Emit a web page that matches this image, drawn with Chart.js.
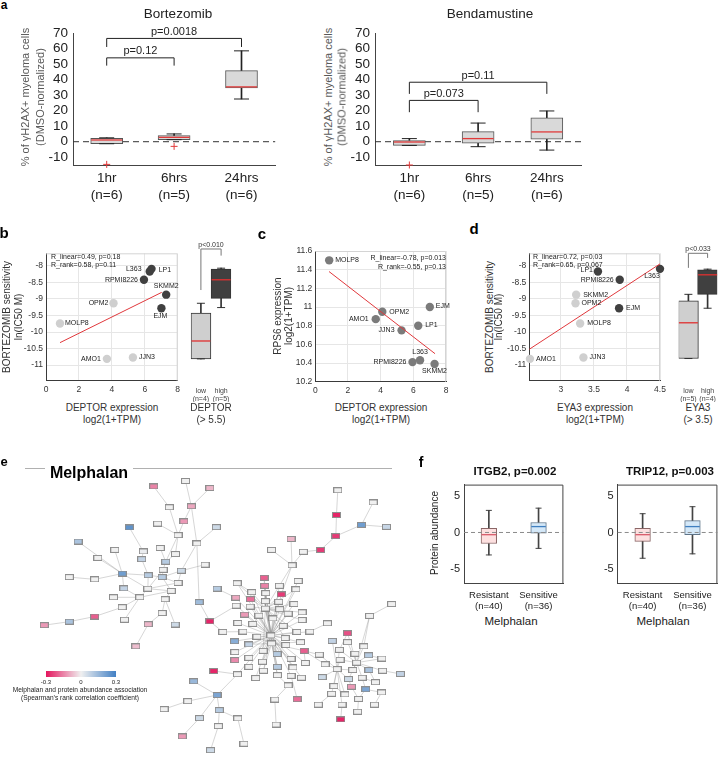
<!DOCTYPE html>
<html>
<head>
<meta charset="utf-8">
<script src="https://cdn.jsdelivr.net/npm/chart.js@4.4.0/dist/chart.umd.min.js"></script>
<style>
body{margin:0;width:721px;height:760px;overflow:hidden;background:#fff;position:relative;font-family:"Liberation Sans",Arial,sans-serif}
canvas{position:absolute}
.t{position:absolute;white-space:nowrap;line-height:1}
</style>
</head>
<body>
<script>
// ---- panel a: gamma-H2AX boxplots
var timeLabels = [['1hr', '(n=6)'], ['6hrs', '(n=5)'], ['24hrs', '(n=6)']];
var aTicks = [-10, 0, 10, 20, 30, 40, 50, 60, 70];
var bortQ1 = [-1.3, 1.3, 34.6], bortQ3 = [2.2, 3.9, 45.8], bortMed = [1.1, 2.8, 35.3];
var bortLo = [-1.3, 1.3, 27.5], bortHi = [2.5, 5, 58.5], bortOut = [-14.6, -3, null];
var bendQ1 = [-2.4, -1, 1.7], bendQ3 = [0.8, 6.5, 15.3], bendMed = [-0.2, 2, 6.3];
var bendLo = [-2.4, -3.2, -5.4], bendHi = [2, 12, 19.8], bendOut = [-15, null, null];
var bortBrackets = [{a: 0, b: 2, y: 66.5, ya: 61, yb: 61, text: 'p=0.0018'}, {a: 0, b: 1, y: 54, ya: 49, yb: 49, text: 'p=0.12'}];
var bendBrackets = [{a: 0, b: 2, y: 38.3, ya: 30.8, yb: 30.8, text: 'p=0.11'}, {a: 0, b: 1, y: 26.6, ya: 19, yb: 19, text: 'p=0.073'}];

// ---- panels b-d: cell lines
var cellLines = ['MOLP8', 'OPM2', 'AMO1', 'JJN3', 'RPMI8226', 'L363', 'LP1', 'SKMM2', 'EJM'];
var deptorExpr = [0.85, 4.1, 3.7, 5.28, 5.95, 6.41, 6.3, 7.3, 7.01];
var bortSens = [-9.74, -9.13, -10.81, -10.77, -8.42, -8.09, -8.17, -8.87, -9.28];
var rps6Expr = [11.5, 10.95, 10.87, 10.75, 10.41, 10.43, 10.8, 10.39, 11.0];
var eya3Expr = [3.29, 3.22, 2.53, 3.34, 3.89, 4.5, 3.56, 3.23, 3.88];
var sensTicks = [-11, -10.5, -10, -9.5, -9, -8.5, -8];
var deptorTicks = [0, 2, 4, 6, 8];
var rps6Ticks = [10.2, 10.4, 10.6, 10.8, 11, 11.2, 11.4, 11.6];
var eya3Ticks = [3, 3.5, 4, 4.5];
var fitB = [0.85, -10.32, 7.03, -8.8], fitC = [0.84, 11.38, 7.33, 10.5], fitD = [2.52, -10.52, 4.5, -7.94];
var deptorGroups = [['low', '(n=4)'], ['high', '(n=5)']];
var eya3Groups = [['low', '(n=5)'], ['high', '(n=4)']];
var deptorBox = {q1: [-10.81, -8.98], q3: [-9.43, -8.1], med: [-10.27, -8.42], lo: [-10.81, -9.26], hi: [-9.13, -8.07]};
var eya3Box = {q1: [-10.8, -8.86], q3: [-9.06, -8.12], med: [-9.72, -8.27], lo: [-10.8, -9.28], hi: [-8.86, -8.1]};

// ---- panel f: protein abundance
var groupsF = [['Resistant', '(n=40)'], ['Sensitive', '(n=36)']];
var fTicks = [-5, 0, 5];
var itgb2 = {q1: [-1.5, -0.1], q3: [0.57, 1.36], med: [-0.3, 0.8], lo: [-3.05, -2.16], hi: [3.0, 3.3]};
var trip12 = {q1: [-1.2, -0.3], q3: [0.57, 1.6], med: [-0.3, 0.8], lo: [-3.5, -2.9], hi: [2.55, 3.5]};

// ---- panel e: network (layout coordinates) and node correlation
var nodeX = [455,553,628,503,571,548,467,380,648,530,588,222,335,283,423,475,418,522,492,613,484,358,195,273,438,481,540,530,437,363,509,331,412,490,358,595,273,195,118,365,481,438,521,400,628,668,
  1022,1131,1018,1095,1172,1016,878,969,818,916,881,
  795,900,712,650,797,842,893,757,800,848,708,753,799,840,887,709,752,799,843,735,779,822,869,912,714,760,854,912,990,730,773,816,860,896,936,704,748,818,862,907,705,792,835,878,918,748,705,790,836,884,922,748,793,836,878,910,769,713,640,869,897,828,832,
  578,650,560,487,657,596,714,654,543,733,630,
  1188,1120,1052,1005,1052,1102,965,1027,1075,1117,1158,983,1029,1080,1020,1068,1118,1160,1215,974,1055,1097,1138,1010,1064,1108,1157,1003,1044,1086,962,1035,1135,1083,1031];
var nodeY = [95,78,100,160,157,204,211,223,222,247,273,267,293,318,298,287,322,306,330,339,355,367,378,385,372,378,358,396,414,413,421,441,441,447,472,456,501,517,528,511,490,525,526,594,516,549,
  107,145,184,215,221,250,259,293,293,299,341,
  380,390,397,414,405,405,416,425,428,432,442,447,453,455,462,467,470,476,478,495,498,507,492,488,521,524,530,512,522,548,564,560,568,549,548,578,588,585,590,581,612,608,618,633,608,630,637,642,658,660,646,658,670,684,686,692,693,681,671,716,759,760,838,
  703,746,765,790,793,818,819,843,875,898,918,
  462,499,553,577,581,594,620,605,617,622,632,650,636,645,665,668,668,670,680,690,696,692,706,718,720,728,738,742,744,758,776,776,776,798,822];
var nodeCorr = [-0.15,0,-0.08,0,-0.1,-0.12,0,0.25,0.06,0,0,0.12,0,0,0.01,0,0.08,0,0.1,0,0,0.22,0,0,0.1,0.1,0.06,0,0,0.08,0,0,0,0,0,0.14,-0.2,0.12,-0.12,0,0,-0.08,0.06,-0.07,-0.28,0,
  0,0,-0.28,0.22,0.07,-0.25,-0.08,-0.25,0,0,0,
  -0.2,0,0,0.1,-0.15,0,0,0,0,-0.25,-0.1,-0.18,0,0,0,0,0,0,0,-0.12,0,0,0,0,0,0,0,0,0,0,0,0,0,0,0,0.18,0.08,0,0,0,0,0,0.1,0,-0.2,0,-0.14,0,0.1,0,0,0,0,0,0,0,0,0,-0.28,0,-0.18,0,0,
  0.15,0.2,0,0,0.1,0.06,0,0,-0.12,0,0.06,
  0,0,-0.22,0.08,0,0,0,0,0,0.1,0,0,0,0,0,0,0.12,0,0.08,0.06,0.06,0,0,0,-0.12,0.2,0,0,0,0,0,0,0,0,-0.28];
// edges use node numbers counted from 1
var netEdges = [[1,4],[2,5],[3,5],[4,10],[5,6],[6,10],[7,10],[5,11],[9,11],[11,27],[10,18],[10,19],[8,15],[15,17],[16,19],[17,25],[18,19],[19,21],[21,26],[25,26],[26,27],[20,27],[12,22],[13,22],[14,22],[23,24],[24,22],[22,25],[22,30],[22,29],[25,29],[26,28],[28,29],[29,33],[30,33],[31,33],[31,34],[32,33],[33,35],[34,41],[34,43],[35,37],[37,38],[38,39],[33,40],[41,42],[42,44],[29,31],[26,31],[27,28],[11,36],[36,45],[45,46],[45,73],[46,87],[61,68],[21,29],
  [57,63],[57,67],[57,53],[57,55],[57,56],[56,54],[54,52],[52,49],[49,47],[52,50],[50,48],[50,51],
  [86,92],[60,65],[102,138],[102,143],[102,108],
  [116,115],[115,122],[121,122],[122,123],[123,124],[122,125],[122,126],[125,127],[125,128],[126,129],[128,131],[127,130],[119,117],[117,111],[118,112],[120,119],[114,110],
  [132,133],[133,137],[150,149],[154,153],[156,152],[157,153],[158,157],[161,156],[164,158],[165,161],[166,163],[162,159],[155,160],[134,139],[141,142],[148,154],[157,161]];
var hub89 = [58,59,60,62,63,64,65,66,67,68,69,70,71,72,73,74,75,76,77,78,79,80,81,82,83,84,85,87,88,90,91,92,93,94,95,96,97,98,99,100,101,103,104,105,106,107,108,109,110,111,112,113,114,115];
var hub75 = [58,60,62,63,64,65,66,67,69,70,71,72,74,76,78,79,80,81,83,84,85,90,91,95,99,100];
var hub95 = [88,94,96,97,99,100,101,105,106,110,111,102];
var hub145 = [133,134,136,137,139,140,141,142,144,147,148,149,152,153];
var hub146 = [135,138,139,143,144,147,151,152,155,159,160,163];

var FONT = '"Liberation Sans", Arial, Helvetica, sans-serif';
Chart.defaults.font.family = FONT;
Chart.defaults.animation = false;
Chart.defaults.events = [];
Chart.defaults.plugins.legend.display = false;
Chart.defaults.plugins.tooltip.enabled = false;

function fmt(v) { return String(Math.round(v * 100) / 100); }

function txt(s, x, y, o) {
    o = o || {};
    var d = document.createElement('div');
    d.className = 't';
    d.textContent = s;
    d.style.left = x + 'px';
    d.style.top = y + 'px';
    d.style.fontSize = (o.size || 10) + 'px';
    if (o.bold) d.style.fontWeight = 'bold';
    d.style.color = o.color || '#222';
    var tx = o.align == 'left' ? '0' : (o.align == 'right' ? '-100%' : '-50%');
    d.style.transform = 'translate(' + tx + ',-50%)' + (o.rot ? ' rotate(-90deg)' : '');
    document.body.appendChild(d);
}

function makeCanvas(r) {
    var c = document.createElement('canvas');
    c.width = r[2] - r[0];
    c.height = r[3] - r[1];
    c.style.left = r[0] + 'px';
    c.style.top = r[1] + 'px';
    c.style.width = c.width + 'px';
    c.style.height = c.height + 'px';
    document.body.appendChild(c);
    return c;
}

// fix the chart area at plot rect inside canvas rect
function fitTo(plot, r) {
    var l = plot[0] - r[0], t = plot[1] - r[1], rr = r[2] - plot[2], b = r[3] - plot[3];
    function zero(s) { s.paddingLeft = s.paddingRight = s.paddingTop = s.paddingBottom = 0; }
    return {
        padding: {left: 0, top: t, right: rr, bottom: 0},
        fx: function (s) { s.height = b; zero(s); },
        fy: function (s) { s.width = l; zero(s); }
    };
}

function ticksFrom(arr) {
    return function (s) { s.ticks = arr.map(function (v) { return {value: v}; }); };
}

function zeroPlugin(z) {
    var draw = function (chart) {
        var ctx = chart.ctx, a = chart.chartArea, y = chart.scales.y.getPixelForValue(0);
        ctx.save();
        ctx.strokeStyle = z.color;
        ctx.lineWidth = 1;
        ctx.setLineDash(z.dash);
        ctx.beginPath();
        ctx.moveTo(a.left, y);
        ctx.lineTo(a.right, y);
        ctx.stroke();
        ctx.restore();
    };
    return z.front ? {id: 'zero', afterDatasetsDraw: draw} : {id: 'zero', beforeDatasetsDraw: draw};
}

function framePlugin(color) {
    return {id: 'frame', beforeDatasetsDraw: function (chart) {
        var ctx = chart.ctx, a = chart.chartArea;
        ctx.save();
        ctx.strokeStyle = color;
        ctx.lineWidth = 1;
        ctx.beginPath();
        ctx.moveTo(a.left, a.top + 0.5);
        ctx.lineTo(a.right - 0.5, a.top + 0.5);
        ctx.lineTo(a.right - 0.5, a.bottom);
        ctx.stroke();
        ctx.restore();
    }};
}

function bracketPlugin(list, st) {
    return {id: 'brackets', afterDatasetsDraw: function (chart) {
        var ctx = chart.ctx, sx = chart.scales.x, sy = chart.scales.y;
        ctx.save();
        ctx.strokeStyle = st.color;
        ctx.fillStyle = st.textColor;
        ctx.lineWidth = 1;
        ctx.font = st.font;
        ctx.textAlign = 'center';
        list.forEach(function (b) {
            var x1 = sx.getPixelForValue(b.a), x2 = sx.getPixelForValue(b.b), yt = sy.getPixelForValue(b.y);
            ctx.beginPath();
            ctx.moveTo(x1, sy.getPixelForValue(b.ya));
            ctx.lineTo(x1, yt);
            ctx.lineTo(x2, yt);
            ctx.lineTo(x2, sy.getPixelForValue(b.yb));
            ctx.stroke();
            ctx.fillText(b.text, (x1 + x2) / 2, yt - st.gap);
        });
        ctx.restore();
    }};
}

function boxChart(p) {
    var cv = makeCanvas(p.rect), fit = fitTo(p.plot, p.rect);
    var cap = {type: 'line', showLine: false, pointStyle: 'line', pointRadius: p.capW / 2,
        pointBorderColor: p.whisk, pointBorderWidth: 1, order: 1, clip: false};
    var ds = [
        {type: 'line', data: p.med, showLine: false, pointStyle: 'line', pointRadius: p.boxW / 2 - 0.5,
            pointBorderColor: p.medColor, pointBorderWidth: 1.3, order: 0, clip: false},
        Object.assign({data: p.hi}, cap),
        Object.assign({data: p.lo}, cap),
        {type: 'bar', data: p.q1.map(function (v, i) { return [v, p.q3[i]]; }), backgroundColor: p.fill,
            borderColor: p.edge, borderWidth: 1, borderSkipped: false, barThickness: p.boxW, grouped: false, order: 2},
        {type: 'bar', data: p.lo.map(function (v, i) { return [v, p.q1[i]]; }), backgroundColor: p.whisk,
            barThickness: 1, grouped: false, order: 3},
        {type: 'bar', data: p.q3.map(function (v, i) { return [v, p.hi[i]]; }), backgroundColor: p.whisk,
            barThickness: 1, grouped: false, order: 3}
    ];
    if (p.out) {
        ds.push({type: 'line', data: p.out, showLine: false, pointStyle: 'cross', pointRadius: 3.5,
            pointBorderColor: '#e23b3b', pointBorderWidth: 1, order: 0, clip: false});
    }
    var plugins = [];
    if (p.zero) plugins.push(zeroPlugin(p.zero));
    if (p.frame) plugins.push(framePlugin(p.frame));
    if (p.brackets) plugins.push(bracketPlugin(p.brackets, p.br));
    new Chart(cv, {
        type: 'bar',
        data: {labels: p.labels, datasets: ds},
        options: {
            responsive: false,
            layout: {padding: fit.padding},
            scales: {
                x: {afterFit: fit.fx, grid: {display: false, drawTicks: false},
                    border: {display: !!p.axisColor, color: p.axisColor},
                    ticks: {font: {size: p.xFont, lineHeight: p.xLH}, color: p.tickColor, padding: p.xPad, maxRotation: 0, autoSkip: false}},
                y: {min: p.yMin, max: p.yMax, afterFit: fit.fy, afterBuildTicks: ticksFrom(p.yTicks),
                    grid: {display: false, drawTicks: false},
                    border: {display: !!p.axisColor, color: p.axisColor},
                    ticks: {display: p.showY, font: {size: p.yFont}, color: p.tickColor, padding: p.yPad, callback: fmt, autoSkip: false}}
            }
        },
        plugins: plugins
    });
}

function scatterChart(p) {
    var cv = makeCanvas(p.rect), fit = fitTo(p.plot, p.rect);
    var pts = p.xs.map(function (x, i) { return {x: x, y: p.ys[i]}; });
    var labels = {id: 'ptlabels', afterDatasetsDraw: function (chart) {
        var ctx = chart.ctx, sx = chart.scales.x, sy = chart.scales.y;
        ctx.save();
        ctx.font = '7px ' + FONT;
        ctx.fillStyle = '#222';
        ctx.textBaseline = 'middle';
        cellLines.forEach(function (n, i) {
            var o = p.off[i];
            ctx.textAlign = o[2];
            ctx.fillText(n, sx.getPixelForValue(p.xs[i]) + o[0], sy.getPixelForValue(p.ys[i]) + o[1]);
        });
        ctx.restore();
    }};
    new Chart(cv, {
        type: 'scatter',
        data: {datasets: [
            {data: [{x: p.fit[0], y: p.fit[1]}, {x: p.fit[2], y: p.fit[3]}], showLine: true, borderColor: '#e0383c',
                borderWidth: 1, pointRadius: 0, order: 0, clip: false},
            {data: pts, backgroundColor: p.colors, pointRadius: 4.2, borderWidth: 0, order: 1, clip: false}
        ]},
        options: {
            responsive: false,
            layout: {padding: fit.padding},
            scales: {
                x: {type: 'linear', min: p.xMin, max: p.xMax, afterFit: fit.fx, afterBuildTicks: ticksFrom(p.xTicks),
                    grid: {color: '#e6e6e6', drawTicks: false}, border: {color: '#3a3a3a'},
                    ticks: {font: {size: 8.5}, color: '#333', padding: 4, callback: fmt, maxRotation: 0, autoSkip: false}},
                y: {min: p.yMin, max: p.yMax, afterFit: fit.fy, afterBuildTicks: ticksFrom(p.yTicks),
                    grid: {color: '#e6e6e6', drawTicks: false}, border: {color: '#3a3a3a'},
                    ticks: {font: {size: 8.5}, color: '#333', padding: 3, callback: fmt, autoSkip: false}}
            }
        },
        plugins: [framePlugin('#d4d4d4'), labels]
    });
}

// ---------- panel a
var aStyle = {yMin: -15, yMax: 70, yTicks: aTicks, fill: '#d9d9d9', edge: '#555', whisk: '#222', medColor: '#e03a3a',
    boxW: 32, capW: 15, xFont: 13.5, xLH: 1.25, xPad: 5, yFont: 13.5, yPad: 5, showY: true, tickColor: '#222',
    axisColor: '#444', zero: {color: '#333', dash: [6, 4], front: false},
    br: {color: '#222', textColor: '#222', font: '11px ' + FONT, gap: 3.5}};
boxChart(Object.assign({plot: [73, 33, 283, 165], rect: [30, 15, 292, 210], labels: timeLabels,
    q1: bortQ1, q3: bortQ3, med: bortMed, lo: bortLo, hi: bortHi, out: bortOut, brackets: bortBrackets}, aStyle));
boxChart(Object.assign({plot: [375, 33, 586, 165], rect: [335, 15, 598, 210], labels: timeLabels,
    q1: bendQ1, q3: bendQ3, med: bendMed, lo: bendLo, hi: bendHi, out: bendOut, brackets: bendBrackets}, aStyle));

// ---------- panels b, c, d
var dark = '#404040', light = '#cfcfcf';
scatterChart({plot: [46, 253.3, 177.7, 380.7], rect: [18, 245, 185, 400], xs: deptorExpr, ys: bortSens,
    xMin: 0, xMax: 8, xTicks: deptorTicks, yMin: -11.47, yMax: -7.62, yTicks: sensTicks, fit: fitB,
    colors: deptorExpr.map(function (v) { return v > 5.5 ? dark : light; }),
    off: [[5, 0, 'left'], [-5, 0, 'right'], [-6, 0, 'right'], [6, 0, 'left'], [-6, 0, 'right'], [-10, 0, 'right'], [9, -1, 'left'], [0, -9, 'center'], [-1, 8, 'center']]});
scatterChart({plot: [315.3, 251, 446, 381.7], rect: [288, 243, 455, 400], xs: deptorExpr, ys: rps6Expr,
    xMin: 0, xMax: 8, xTicks: deptorTicks, yMin: 10.2, yMax: 11.6, yTicks: rps6Ticks, fit: fitC,
    colors: cellLines.map(function () { return '#7b7b7b'; }),
    off: [[6, 0, 'left'], [7, 0, 'left'], [-7, 0, 'right'], [-7, 0, 'right'], [-6, 0, 'right'], [0, -8, 'center'], [7, -1, 'left'], [0, 7, 'center'], [6, -1, 'left']]});
scatterChart({plot: [529.3, 253.3, 660, 380.7], rect: [503, 245, 668, 400], xs: eya3Expr, ys: bortSens,
    xMin: 2.52, xMax: 4.5, xTicks: eya3Ticks, yMin: -11.47, yMax: -7.62, yTicks: sensTicks, fit: fitD,
    colors: eya3Expr.map(function (v) { return v > 3.5 ? dark : light; }),
    off: [[7, 0, 'left'], [6, 0, 'left'], [6, 0, 'left'], [6, 0, 'left'], [-6, 0, 'right'], [-8, 7, 'center'], [-5, -1, 'right'], [7, 0, 'left'], [7, 0, 'left']]});

var subStyle = {yMin: -11.47, yMax: -7.62, yTicks: sensTicks, showY: false, fill: [light, dark], edge: '#333', whisk: '#333',
    medColor: '#e03030', boxW: 20, capW: 8, xFont: 7, xLH: 1.1, xPad: 6.5, yFont: 7, yPad: 2, tickColor: '#444',
    br: {color: '#777', textColor: '#333', font: '7px ' + FONT, gap: 2}};
boxChart(Object.assign({plot: [185.3, 253.3, 237.3, 380.7], rect: [180, 238, 242, 402], labels: deptorGroups,
    q1: deptorBox.q1, q3: deptorBox.q3, med: deptorBox.med, lo: deptorBox.lo, hi: deptorBox.hi,
    brackets: [{a: 0, b: 1, y: -7.49, ya: -8.73, yb: -7.69, text: 'p<0.010'}]}, subStyle));
boxChart(Object.assign({plot: [673.4, 253.3, 722.6, 380.7], rect: [668, 238, 728, 402], labels: eya3Groups,
    q1: eya3Box.q1, q3: eya3Box.q3, med: eya3Box.med, lo: eya3Box.lo, hi: eya3Box.hi,
    brackets: [{a: 0, b: 1, y: -7.62, ya: -8.06, yb: -7.76, text: 'p<0.033'}]}, subStyle));

// ---------- panel f
var fStyle = {yMin: -6.9, yMax: 6.5, yTicks: fTicks, showY: true, labels: groupsF, fill: ['#fde0e0', '#d4e8f8'],
    edge: ['#8a6666', '#5f7488'], whisk: '#444', medColor: ['#d85a6a', '#3f7fc0'], boxW: 15.6, capW: 6,
    xFont: 9.5, xLH: 1.2, xPad: 6, yFont: 11, yPad: 4, tickColor: '#222', axisColor: '#444', frame: '#444',
    zero: {color: '#8a8a8a', dash: [4, 3], front: true}};
boxChart(Object.assign({plot: [464, 482.3, 566.7, 583.3], rect: [440, 476, 572, 615],
    q1: itgb2.q1, q3: itgb2.q3, med: itgb2.med, lo: itgb2.lo, hi: itgb2.hi}, fStyle));
boxChart(Object.assign({plot: [617.7, 482.3, 719.8, 583.3], rect: [594, 476, 726, 615],
    q1: trip12.q1, q3: trip12.q3, med: trip12.med, lo: trip12.lo, hi: trip12.hi}, fStyle));

// ---------- panel e network
function corrColor(r) {
    var neg = [228, 22, 94], mid = [240, 240, 240], pos = [66, 128, 196];
    var t = Math.max(-1, Math.min(1, r / 0.3)), end = t < 0 ? neg : pos, k = Math.abs(t);
    return 'rgb(' + mid.map(function (m, i) { return Math.round(m + (end[i] - m) * k); }).join(',') + ')';
}
function nodeImage(color) {
    var c = document.createElement('canvas');
    c.width = 9; c.height = 6;
    var g = c.getContext('2d');
    g.fillStyle = color;
    g.fillRect(0, 0, 9, 6);
    g.strokeStyle = '#8e8e8e';
    g.lineWidth = 1;
    g.strokeRect(0.5, 0.5, 8, 5);
    return c;
}
(function () {
    var cv = makeCanvas([0, 450, 460, 760]);
    var imgs = nodeCorr.map(function (r) { return nodeImage(corrColor(r)); });
    var pts = nodeX.map(function (x, i) { return {x: x, y: nodeY[i]}; });
    var segs = [];
    function edge(a, b) {
        segs.push({x: nodeX[a - 1], y: nodeY[a - 1]}, {x: nodeX[b - 1], y: nodeY[b - 1]}, {x: null, y: null});
    }
    netEdges.forEach(function (e) { edge(e[0], e[1]); });
    hub89.forEach(function (n) { edge(n, 89); });
    hub75.forEach(function (n) { edge(n, 75); });
    hub95.forEach(function (n) { edge(n, 95); });
    hub145.forEach(function (n) { edge(n, 145); });
    hub146.forEach(function (n) { edge(n, 146); });
    new Chart(cv, {
        type: 'scatter',
        data: {datasets: [
            {data: pts, pointStyle: function (ctx) { return imgs[ctx.dataIndex]; }, pointRadius: 5, order: 0, clip: false},
            {data: segs, showLine: true, spanGaps: false, borderColor: 'rgba(140,140,140,0.6)', borderWidth: 0.6,
                pointRadius: 0, order: 1, clip: false}
        ]},
        options: {
            responsive: false,
            layout: {padding: 0},
            scales: {
                x: {type: 'linear', display: false, min: 0, max: 1380},
                y: {display: false, min: 0, max: 930, reverse: true}
            }
        }
    });
})();

// ---------- text
var gray = '#595959';
txt('a', 4, 5, {size: 12, bold: true, color: '#000'});
txt('Bortezomib', 178, 14, {size: 13.5});
txt('Bendamustine', 490, 14, {size: 13.5});
txt('% of γH2AX+ myeloma cells', 25, 97, {size: 11, color: gray, rot: true});
txt('(DMSO-normalized)', 40, 97, {size: 11, color: gray, rot: true});
txt('% of γH2AX+ myeloma cells', 328, 97, {size: 11, color: gray, rot: true});
txt('(DMSO-normalized)', 342, 97, {size: 11, color: gray, rot: true});

txt('b', 4, 232, {size: 15, bold: true, color: '#000'});
txt('c', 262, 233, {size: 15, bold: true, color: '#000'});
txt('d', 474, 228, {size: 15, bold: true, color: '#000'});
txt('BORTEZOMIB sensitivity', 7, 317, {size: 10, color: '#333', rot: true});
txt('ln(IC50 M)', 19, 317, {size: 10, color: '#333', rot: true});
txt('DEPTOR expression', 112, 408, {size: 10, color: '#333'});
txt('log2(1+TPM)', 112, 420, {size: 10, color: '#333'});
txt('DEPTOR', 211, 408, {size: 10, color: '#333'});
txt('(> 5.5)', 211, 420, {size: 10, color: '#333'});
txt('R_linear=0.49, p=0.18', 51, 256, {size: 7, align: 'left'});
txt('R_rank=0.58, p=0.11', 51, 264, {size: 7, align: 'left'});

txt('RPS6 expression', 278, 316, {size: 10, color: '#333', rot: true});
txt('log2(1+TPM)', 289, 316, {size: 10, color: '#333', rot: true});
txt('DEPTOR expression', 381, 408, {size: 10, color: '#333'});
txt('log2(1+TPM)', 381, 420, {size: 10, color: '#333'});
txt('R_linear=-0.78, p=0.013', 446, 257, {size: 7, align: 'right'});
txt('R_rank=-0.55, p=0.13', 446, 265.5, {size: 7, align: 'right'});

txt('BORTEZOMIB sensitivity', 490, 317, {size: 10, color: '#333', rot: true});
txt('ln(IC50 M)', 499, 317, {size: 10, color: '#333', rot: true});
txt('EYA3 expression', 595, 408, {size: 10, color: '#333'});
txt('log2(1+TPM)', 595, 420, {size: 10, color: '#333'});
txt('EYA3', 698, 408, {size: 10, color: '#333'});
txt('(> 3.5)', 698, 420, {size: 10, color: '#333'});
txt('R_linear=0.72, p=0.03', 533, 256, {size: 7, align: 'left'});
txt('R_rank=0.65, p=0.067', 533, 264, {size: 7, align: 'left'});

txt('e', 4, 461, {size: 13, bold: true, color: '#000'});
txt('Melphalan', 89, 473, {size: 16, bold: true, color: '#000'});
function hline(x0, x1, y) {
    var d = document.createElement('div');
    d.style.cssText = 'position:absolute;height:0;border-top:1px solid #b0b0b0;left:' + x0 + 'px;top:' + y + 'px;width:' + (x1 - x0) + 'px';
    document.body.appendChild(d);
}
hline(25, 45, 468);
hline(133, 392, 468);
var bar = document.createElement('div');
bar.style.cssText = 'position:absolute;left:46px;top:671px;width:70px;height:6px;background:linear-gradient(to right,' +
    corrColor(-0.3) + ',' + corrColor(0) + ',' + corrColor(0.3) + ')';
document.body.appendChild(bar);
txt('-0.3', 46, 682, {size: 6});
txt('0', 81, 682, {size: 6});
txt('0.3', 116, 682, {size: 6});
txt('Melphalan and protein abundance association', 80, 690, {size: 6.6});
txt('(Spearman’s rank correlation coefficient)', 80, 698, {size: 6.6});

txt('f', 421, 462, {size: 14, bold: true, color: '#000'});
txt('ITGB2, p=0.002', 515, 472, {size: 11.5, bold: true, color: '#111'});
txt('TRIP12, p=0.003', 670, 472, {size: 11.5, bold: true, color: '#111'});
txt('Protein abundance', 435, 533, {size: 10, rot: true});
txt('Melphalan', 511, 622, {size: 11.5});
txt('Melphalan', 663, 622, {size: 11.5});
</script>
</body>
</html>
